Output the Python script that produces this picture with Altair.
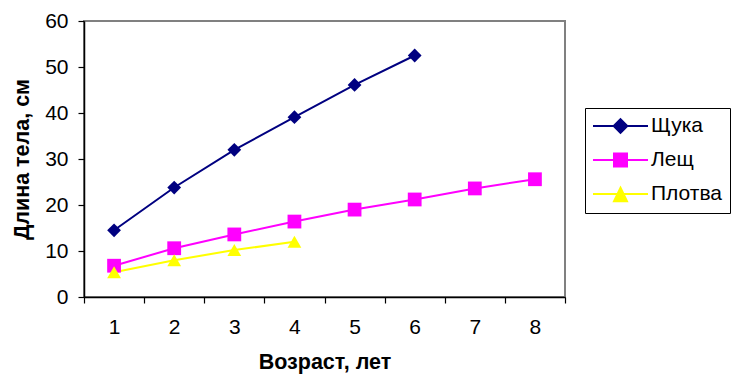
import altair as alt
import pandas as pd

fish = ["Щука", "Лещ", "Плотва"]
colors = ["#000080", "#FF00FF", "#FFFF00"]
ages_pike = [1, 2, 3, 4, 5, 6]
len_pike = [14.5, 23.8, 32.0, 39.1, 46.1, 52.5]
ages_bream = [1, 2, 3, 4, 5, 6, 7, 8]
len_bream = [6.8, 10.6, 13.6, 16.4, 19.0, 21.2, 23.6, 25.6]
ages_roach = [1, 2, 3, 4]
len_roach = [5.4, 8.0, 10.2, 12.0]

rows = []
for a, v in zip(ages_pike, len_pike):
    rows.append({"fish": fish[0], "age": a, "len": v})
for a, v in zip(ages_bream, len_bream):
    rows.append({"fish": fish[1], "age": a, "len": v})
for a, v in zip(ages_roach, len_roach):
    rows.append({"fish": fish[2], "age": a, "len": v})
df = pd.DataFrame(rows)

FONT = "Liberation Sans"
LFS = 21
TFS = 21.5

x_enc = alt.X(
    "age:O",
    bandPosition=0.5,
    scale=alt.Scale(type="band", paddingInner=0, paddingOuter=0),
    axis=alt.Axis(
        title="Возраст, лет",
        labelAngle=0,
        tickBand="extent",
        tickSize=6,
        labelPadding=13,
        labelFontSize=LFS,
        labelFont=FONT,
        labelColor="#000000",
        titleFontSize=TFS,
        titleFont=FONT,
        titleFontWeight="bold",
        titleColor="#000000",
        titleY=65,
        titleBaseline="middle",
        domainColor="#000000",
        tickColor="#000000",
        domainWidth=1.5,
        tickWidth=1.2,
    ),
)
y_enc = alt.Y(
    "len:Q",
    scale=alt.Scale(domain=[0, 60], nice=False),
    axis=alt.Axis(
        title="Длина тела, см",
        values=[0, 10, 20, 30, 40, 50, 60],
        grid=False,
        tickSize=6,
        labelPadding=10,
        labelFontSize=LFS,
        labelFont=FONT,
        labelColor="#000000",
        titleFontSize=TFS,
        titleFont=FONT,
        titleFontWeight="bold",
        titleColor="#000000",
        titleX=-62,
        titleY=138,
        titleBaseline="middle",
        titleAlign="center",
        domainColor="#000000",
        tickColor="#000000",
        domainWidth=1.5,
        tickWidth=1.2,
    ),
)

cscale = alt.Scale(domain=fish, range=colors)

lines = alt.Chart(df).mark_line(strokeWidth=2).encode(
    x=x_enc,
    y=y_enc,
    color=alt.Color("fish:N", scale=cscale, legend=None),
    detail="fish:N",
)

points = alt.Chart(df).mark_point(filled=True, size=190, opacity=1).encode(
    x=x_enc,
    y=y_enc,
    color=alt.Color("fish:N", scale=cscale, legend=None),
    shape=alt.Shape(
        "fish:N",
        scale=alt.Scale(domain=fish, range=["diamond", "square", "triangle-up"]),
        legend=None,
    ),
)

# legend glyphs: a line segment with the series marker in its middle
legend_paths = [
    "M-1,0L4.5,0M1.75,-0.68L2.43,0L1.75,0.68L1.07,0Z",
    "M-1,0L4.5,0M1.1,-0.64L2.4,-0.64L2.4,0.64L1.1,0.64Z",
    "M-1,0L4.5,0M1.75,-0.63L2.4,0.73L1.1,0.73Z",
]

legend_layer = alt.Chart(df).mark_point(filled=True, opacity=0, strokeWidth=2).encode(
    x=x_enc,
    y=y_enc,
    color=alt.Color(
        "fish:N",
        scale=cscale,
        legend=alt.Legend(
            title=None,
            orient="none",
            legendX=501,
            legendY=87,
            padding=7,
            rowPadding=12,
            labelOffset=37,
            labelFontSize=LFS,
            labelFont=FONT,
            labelColor="#000000",
            symbolSize=400,
            symbolOpacity=1,
            symbolStrokeWidth=2,
            strokeColor="#000000",
            fillColor="#FFFFFF",
        ),
    ),
    stroke=alt.Stroke("fish:N", scale=cscale, legend=None),
    shape=alt.Shape(
        "fish:N",
        scale=alt.Scale(domain=fish, range=legend_paths),
        legend=None,
    ),
)

chart = (
    alt.layer(lines, points, legend_layer)
    .resolve_scale(shape="independent", color="independent", stroke="independent")
    .properties(
        width=481,
        height=276,
        padding={"left": 84, "top": 21, "right": 166, "bottom": 79},
        autosize=alt.AutoSizeParams(type="none"),
        background="#FFFFFF",
    )
    .configure_view(stroke="#808080", strokeWidth=2)
)

chart.save("out.html", embed_options={"renderer": "svg", "actions": False})
